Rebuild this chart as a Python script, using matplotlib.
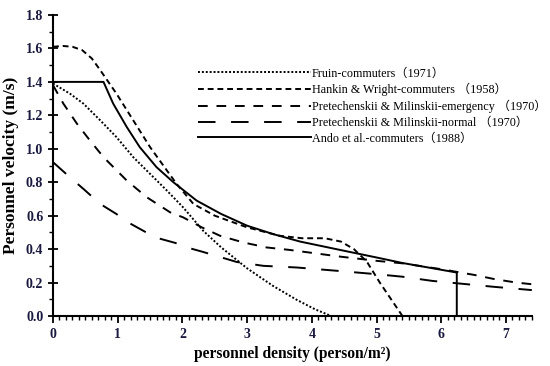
import matplotlib
matplotlib.use("Agg")
import matplotlib.pyplot as plt
from matplotlib.ticker import MultipleLocator

# ---- data ----
fruin_x = [0, 0.26, 0.47, 0.73, 0.98, 1.24, 1.5, 1.76, 2.01, 2.32, 2.6, 3.0, 3.4, 3.77, 4.05, 4.3]
fruin_y = [1.39, 1.33, 1.27, 1.17, 1.07, 0.95, 0.85, 0.75, 0.65, 0.51, 0.41, 0.285, 0.18, 0.096, 0.04, 0.0]

hankin_x = [0, 0.15, 0.3, 0.45, 0.6, 0.73, 0.98, 1.24, 1.5, 1.76, 1.91, 2.17, 2.5, 3.0, 3.5, 3.85, 4.2, 4.45, 4.65, 4.85, 5.05, 5.26, 5.4]
hankin_y = [1.61, 1.615, 1.61, 1.59, 1.54, 1.47, 1.33, 1.17, 1.01, 0.87, 0.79, 0.67, 0.60, 0.53, 0.48, 0.465, 0.465, 0.445, 0.40, 0.325, 0.20, 0.08, 0.0]

emerg_x = [0, 0.16, 0.37, 0.57, 0.78, 1.14, 1.45, 1.81, 2.01, 2.3, 2.58, 2.94, 3.3, 3.66, 4.44, 5.0, 5.4, 6.0, 6.52, 6.83, 7.16, 7.4]
emerg_y = [1.38, 1.27, 1.15, 1.05, 0.95, 0.81, 0.71, 0.62, 0.59, 0.53, 0.48, 0.44, 0.41, 0.395, 0.355, 0.33, 0.315, 0.28, 0.245, 0.22, 0.20, 0.19]

normal_x = [0, 0.26, 0.47, 0.73, 0.98, 1.16, 1.58, 1.89, 2.07, 2.32, 2.84, 3.25, 3.77, 4.4, 5.0, 5.4, 5.86, 6.8, 7.4]
normal_y = [0.92, 0.83, 0.76, 0.67, 0.61, 0.56, 0.47, 0.437, 0.41, 0.383, 0.323, 0.30, 0.29, 0.27, 0.25, 0.235, 0.21, 0.175, 0.155]

ando_x = [0, 0.78, 0.93, 1.14, 1.34, 1.60, 1.86, 2.22, 2.6, 3.0, 3.4, 3.82, 4.5, 5.0, 5.4, 5.8, 6.24, 6.24]
ando_y = [1.40, 1.40, 1.27, 1.13, 1.01, 0.89, 0.80, 0.69, 0.61, 0.54, 0.49, 0.445, 0.39, 0.35, 0.317, 0.29, 0.26, 0.0]

labels = [
    "Fruin-commuters\uff081971\uff09",
    "Hankin & Wright-commuters \uff081958\uff09",
    "Pretechenskii & Milinskii-emergency \uff081970\uff09",
    "Pretechenskii & Milinskii-normal \uff081970\uff09",
    "Ando et al.-commuters\uff081988\uff09",
]

serif = ["Liberation Serif", "Noto Sans CJK SC", "DejaVu Sans"]
plt.rcParams["font.family"] = serif

fig = plt.figure(figsize=(5.5, 3.66), dpi=100)
ax = fig.add_axes([0.0964, 0.1366, 0.967 - 0.0964, 0.959 - 0.1366])

lw = 1.4
ax.plot(fruin_x, fruin_y, color="black", lw=lw, linestyle=(0, (1, 1)), label=labels[0])
ax.plot(hankin_x, hankin_y, color="black", lw=lw, linestyle=(0, (3, 2)), label=labels[1])
ax.plot(emerg_x, emerg_y, color="black", lw=lw, linestyle=(0, (5, 4.5)), label=labels[2])
ax.plot(normal_x, normal_y, color="black", lw=lw, linestyle=(0, (9, 8)), label=labels[3])
ax.plot(ando_x, ando_y, color="black", lw=lw, linestyle="-", label=labels[4])

ax.set_xlim(0, 7.4)
ax.set_ylim(0, 1.8)
ax.spines["top"].set_visible(False)
ax.spines["right"].set_visible(False)
for s in ("left", "bottom"):
    ax.spines[s].set_linewidth(1.5)

ax.xaxis.set_major_locator(MultipleLocator(1))
ax.xaxis.set_minor_locator(MultipleLocator(0.1))
ax.yaxis.set_major_locator(MultipleLocator(0.2))
ax.yaxis.set_minor_locator(MultipleLocator(0.1))
ax.tick_params(axis="x", which="major", direction="out", length=5, width=1.3)
ax.tick_params(axis="x", which="minor", direction="out", length=3, width=1.0)
ax.tick_params(axis="y", which="major", direction="inout", length=7, width=1.3)
ax.tick_params(axis="y", which="minor", direction="out", length=3, width=1.0)

ax.set_xticks(range(0, 8))
ax.set_xticklabels([str(i) for i in range(0, 8)], fontsize=10, fontweight="bold", color="#1a1a40")
yt = [i * 0.2 for i in range(10)]
ax.set_yticks(yt)
ax.set_yticklabels(["%.1f" % v for v in yt], fontsize=10, fontweight="bold", color="#1a1a40")

ax.set_xlabel("personnel density (person/m\u00b2)", fontsize=11.2, fontweight="bold", labelpad=4)
ax.set_ylabel("Personnel velocity (m/s)", fontsize=12.5, fontweight="bold", labelpad=5)

leg = ax.legend(loc="upper left", bbox_to_anchor=(0.302, 0.826), frameon=False,
                handlelength=9.4, handletextpad=0.05, labelspacing=0.3,
                prop={"family": serif, "size": 8.7}, borderaxespad=0, borderpad=0)

fig.savefig("out.png", dpi=100)
